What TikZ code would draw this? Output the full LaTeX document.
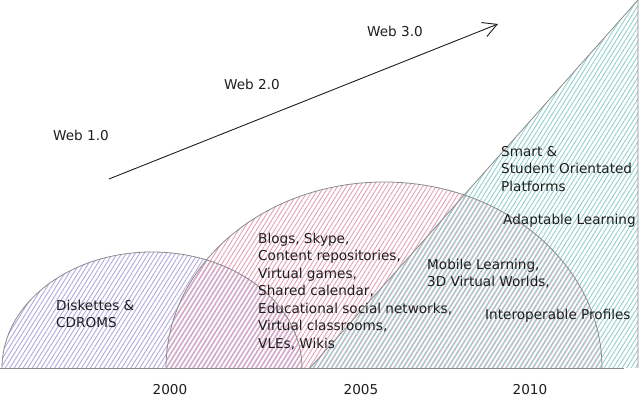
\documentclass[tikz,border=0pt]{standalone}
\usepackage{fontspec}
\setmainfont{DejaVu Sans}
\usetikzlibrary{patterns.meta,arrows.meta}
\definecolor{hpurple}{HTML}{B4ACE0}
\definecolor{hpink}{HTML}{E5A5BB}
\definecolor{hteal}{HTML}{97D1D1}
\definecolor{edge}{HTML}{8A8A8A}
\definecolor{ink}{HTML}{1E1E1E}
\tikzset{
  hatchp/.style={pattern={Lines[angle=58,distance=3.8pt,line width=0.95pt]},pattern color=hpurple},
  hatchk/.style={pattern={Lines[angle=58,distance=3.8pt,line width=0.95pt,yshift=1.25pt]},pattern color=hpink},
  hatcht/.style={pattern={Lines[angle=58,distance=3.8pt,line width=0.95pt,yshift=2.5pt]},pattern color=hteal},
  outline/.style={draw=edge,line width=0.8pt},
  lbl/.style={font=\fontsize{13.6}{17.5}\selectfont,text=ink,inner sep=0pt,align=left,anchor=north west},
  yr/.style={font=\fontsize{13.6}{17.5}\selectfont,text=ink,inner sep=0pt,anchor=base},
}
\begin{document}
\begin{tikzpicture}[x=1pt,y=1pt]
\useasboundingbox (0,0) rectangle (640,398);
% shapes
\fill[hatchp] (2,30) arc[start angle=180,end angle=0,x radius=150,y radius=116] -- cycle;
\fill[hatchk] (166,30) arc[start angle=180,end angle=0,x radius=218,y radius=186] -- cycle;
\fill[hatcht] (310,30) -- (638,398) -- (638,30) -- cycle;
\draw[outline] (2,30) arc[start angle=180,end angle=0,x radius=150,y radius=116];
\draw[outline] (166,30) arc[start angle=180,end angle=0,x radius=218,y radius=186];
\draw[outline] (310,30) -- (638,398) -- (638,30);
\coordinate (b0) at (0,30);
\coordinate (b1) at (624,30);
\draw[edge,line width=0.9pt] (b0) -- (b1);
% arrow
\coordinate (a0) at (109,219);
\coordinate (a1) at (498,374);
\draw[ink,line width=0.9pt,-{Straight Barb[length=14pt,width=15pt,line width=0.9pt]}] (a0) -- (a1);
% web labels
\node[lbl,anchor=base west] (w1) at (53,257) {Web 1.0};
\node[lbl,anchor=base west] (w2) at (224,308) {Web 2.0};
\node[lbl,anchor=base west] (w3) at (367,361) {Web 3.0};
% text blocks
\node[lbl] (t1) at (56,100.25) {\strut Diskettes \&\\CDROMS};
\node[lbl] (t2) at (258,167.25) {\strut Blogs, Skype,\\Content repositories,\\Virtual games,\\Shared calendar,\\Educational social networks,\\Virtual classrooms,\\VLEs, Wikis};
\node[lbl] (t3) at (427,141.25) {\strut Mobile Learning,\\3D Virtual Worlds,};
\node[lbl,anchor=base west] (t4) at (485,78) {Interoperable Profiles};
\node[lbl] (t5) at (501,254.25) {\strut Smart \&\\Student Orientated\\Platforms};
\node[lbl,anchor=base west] (t6) at (503,173) {Adaptable Learning};
% years
\node[yr] (y1) at (170,3.5) {2000};
\node[yr] (y2) at (361,3.5) {2005};
\node[yr] (y3) at (530,3.5) {2010};
\end{tikzpicture}
\end{document}
